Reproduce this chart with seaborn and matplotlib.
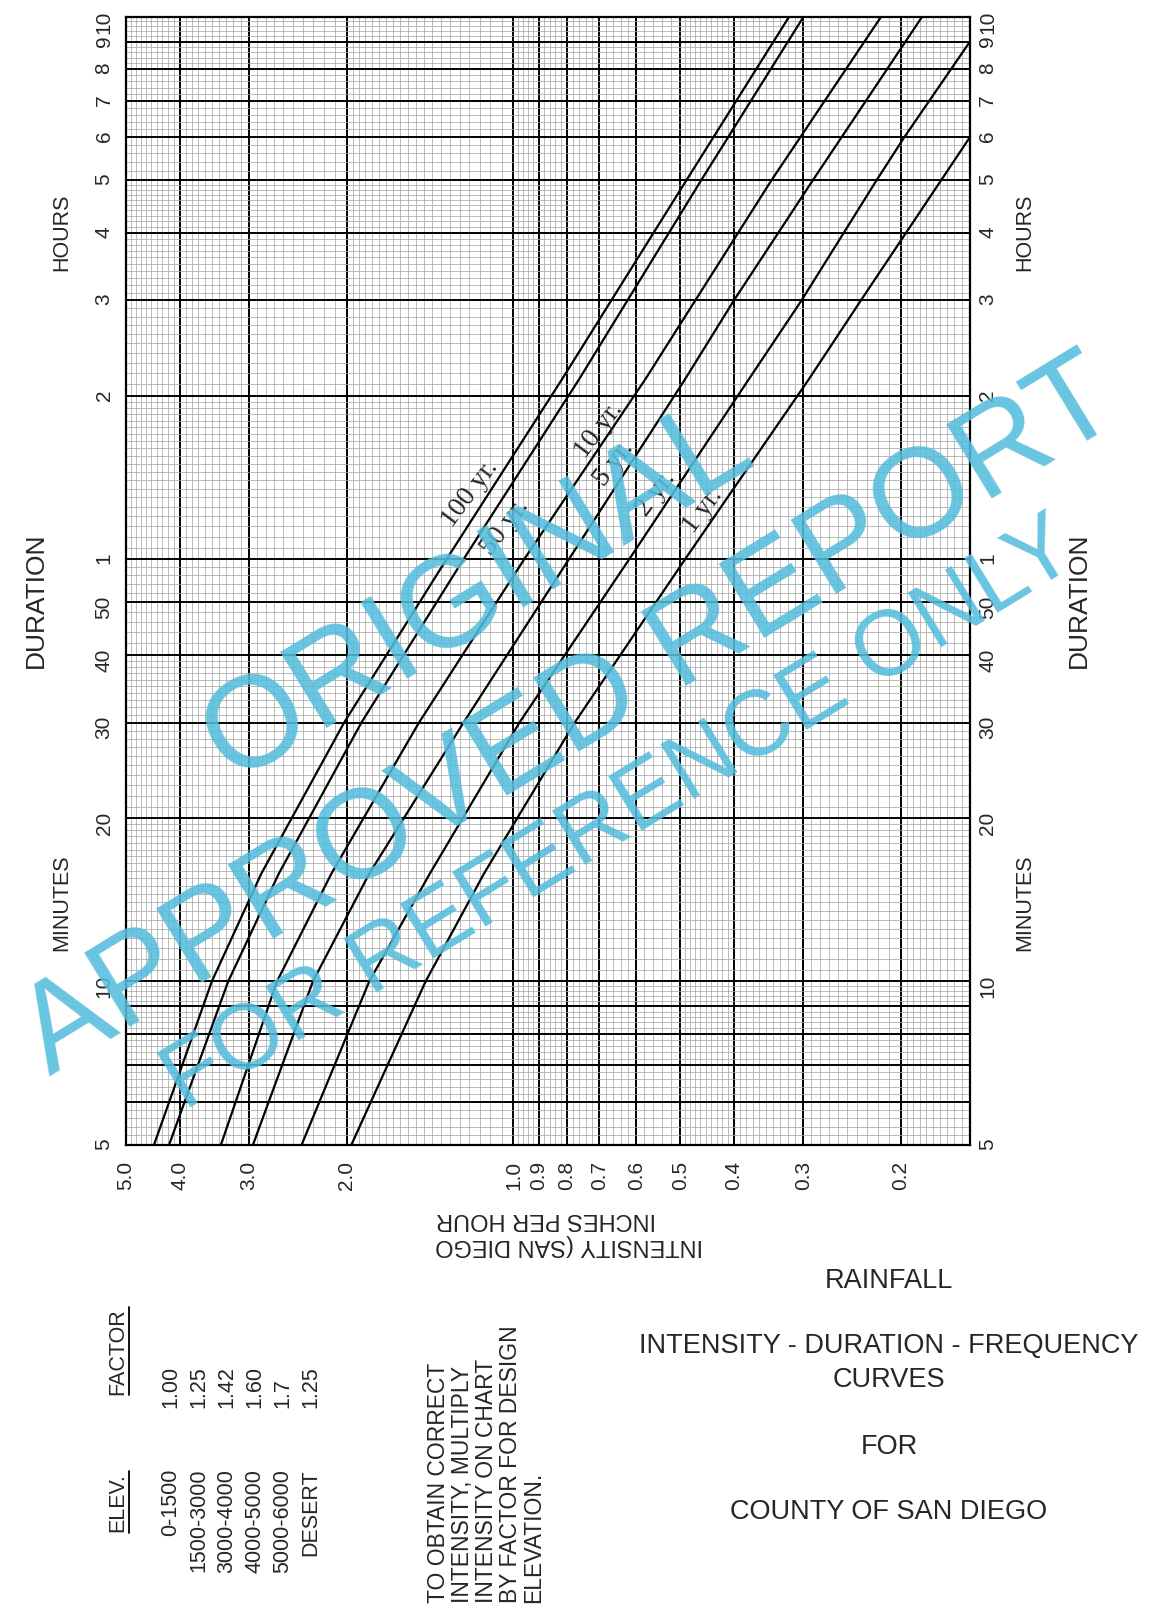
import numpy as np
import pandas as pd
import matplotlib
matplotlib.use("Agg")
import matplotlib.pyplot as plt
from matplotlib.ticker import FixedLocator, FixedFormatter, NullFormatter, NullLocator
from matplotlib.lines import Line2D
import seaborn as sns

nan = np.nan

DURATION_MIN = [5, 10, 15.8, 30, 60, 128.8, 180, 300, 360, 540, 600]

# Intensity (inches per hour) for each return period
YR100 = [4.45, 3.50, 2.85, 2.02, 1.32, 0.817, nan, 0.487, nan, nan, 0.318]
YR50 = [4.18, 3.27, 2.65, 1.88, 1.23, 0.761, nan, 0.458, nan, nan, 0.2995]
YR10 = [3.37, 2.67, 2.13, 1.48, 0.956, 0.578, nan, 0.342, nan, nan, 0.217]
YR5 = [2.95, 2.30, 1.82, 1.23, 0.794, 0.49, 0.40, 0.288, nan, nan, 0.183]
YR2 = [2.41, 1.82, 1.415, 0.975, 0.618, 0.376, 0.302, 0.221, 0.197, 0.15, nan]
YR1 = [1.96, 1.44, 1.13, 0.775, 0.49, 0.293, 0.236, 0.169, 0.150, nan, nan]

FREQ_LABELS = ["100 yr.", "50 yr.", "10 yr.", "5 yr.", "2 yr.", "1 yr."]
# where each curve label sits (intensity, duration in minutes)
LABEL_I = [1.198, 1.036, 0.70, 0.659, 0.552, 0.455]
LABEL_D = [79.6, 69.0, 104.1, 90.4, 79.6, 74.1]

X_TICKS = [5.0, 4.0, 3.0, 2.0, 1.0, 0.9, 0.8, 0.7, 0.6, 0.5, 0.4, 0.3, 0.2]
X_TICK_LABELS = ["5.0", "4.0", "3.0", "2.0", "1.0", "0.9", "0.8", "0.7",
                 "0.6", "0.5", "0.4", "0.3", "0.2"]
Y_TICKS = [5, 6, 7, 8, 9, 10, 20, 30, 40, 50, 60, 120, 180, 240, 300, 360,
           420, 480, 540, 600]
Y_TICK_LABELS = ["5", "", "", "", "", "10", "20", "30", "40", "50", "1", "2",
                 "3", "4", "5", "6", "7", "8", "9", "10"]

ELEV = ["0-1500", "1500-3000", "3000-4000", "4000-5000", "5000-6000", "DESERT"]
FACTOR = ["1.00", "1.25", "1.42", "1.60", "1.7", "1.25"]

# long-form table for seaborn
rows = []
for name, vals in zip(FREQ_LABELS, [YR100, YR50, YR10, YR5, YR2, YR1]):
    for d, i in zip(DURATION_MIN, vals):
        if not np.isnan(i):
            rows.append({"freq": name, "duration": d, "intensity": i})
df = pd.DataFrame(rows)

sns.set_style("white")
plt.rcParams["font.family"] = ["Liberation Sans", "DejaVu Sans"]

W, H = 1149, 1608
fig = plt.figure(figsize=(W / 100, H / 100), dpi=100)


def fx(px):
    return px / W


def fy(py):
    return 1 - py / H


ax = fig.add_axes([fx(126), fy(1145.7), fx(970) - fx(126), fy(17.7) - fy(1145.7)])

sns.lineplot(data=df, x="intensity", y="duration", hue="freq",
             hue_order=FREQ_LABELS, palette=["black"] * 6, sort=False,
             estimator=None, legend=False, linewidth=1.6, ax=ax)

ax.set_xscale("log")
ax.set_yscale("log")
ax.set_xlim(5.0, 0.15)
ax.set_ylim(5, 600)
ax.set_xlabel("")
ax.set_ylabel("")

# graph-paper rulings
x_minor = np.concatenate([np.arange(2.0, 5.0, 0.1), np.arange(1.0, 2.0, 0.05),
                          np.arange(0.5, 1.0, 0.02), np.arange(0.2, 0.5, 0.01),
                          np.arange(0.15, 0.2, 0.005)])
y_minor = np.concatenate([np.arange(5, 10, 0.2), np.arange(10, 20, 0.5),
                          np.arange(20, 40, 1.0), np.arange(40, 60, 2.0),
                          np.arange(60, 120, 3.0), np.arange(120, 300, 6.0),
                          np.arange(300, 600, 12.0)])

ax.xaxis.set_major_locator(FixedLocator(X_TICKS))
ax.xaxis.set_major_formatter(FixedFormatter(X_TICK_LABELS))
ax.xaxis.set_minor_locator(FixedLocator(x_minor))
ax.xaxis.set_minor_formatter(NullFormatter())
ax.yaxis.set_major_locator(FixedLocator(Y_TICKS))
ax.yaxis.set_major_formatter(FixedFormatter(Y_TICK_LABELS))
ax.yaxis.set_minor_locator(FixedLocator(y_minor))
ax.yaxis.set_minor_formatter(NullFormatter())

ax.set_axisbelow(True)
ax.grid(which="minor", color="#a8a8a8", linewidth=0.55)
ax.grid(which="major", color="black", linewidth=1.4)
ax.tick_params(which="both", length=0)
ax.tick_params(axis="x", labelsize=15, pad=11, labelrotation=90)
ax.tick_params(axis="y", labelsize=15, pad=9, labelrotation=90)
for s in ax.spines.values():
    s.set_color("black")
    s.set_linewidth(1.6)

# same duration scale on the right
ax2 = ax.twinx()
ax2.set_yscale("log")
ax2.set_ylim(5, 600)
ax2.yaxis.set_major_locator(FixedLocator(Y_TICKS))
ax2.yaxis.set_major_formatter(FixedFormatter(Y_TICK_LABELS))
ax2.yaxis.set_minor_locator(NullLocator())
ax2.grid(False)
ax2.tick_params(which="both", length=0, labelsize=15, pad=6, labelrotation=90)
for s in ax2.spines.values():
    s.set_visible(False)

# curve labels
for lab, xi, yd in zip(FREQ_LABELS, LABEL_I, LABEL_D):
    ax.text(xi, yd, lab, rotation=53, rotation_mode="anchor", ha="center",
            va="center", fontsize=20, family=["Liberation Serif", "DejaVu Serif"])

# axis titles
for xx in (62, 1025):
    fig.text(fx(xx), fy(232), "HOURS", rotation=90, ha="center", va="center", fontsize=15.5)
    fig.text(fx(xx), fy(903), "MINUTES", rotation=90, ha="center", va="center", fontsize=15.5)
fig.text(fx(36), fy(600), "DURATION", rotation=90, ha="center", va="center", fontsize=19)
fig.text(fx(1079), fy(600), "DURATION", rotation=90, ha="center", va="center", fontsize=19)
fig.text(fx(569.5), fy(1232), "INTENSITY (SAN DIEGO\nINCHES PER HOUR", rotation=180,
         ha="center", va="center", multialignment="right", fontsize=17, linespacing=1.25)

# title block
fig.text(fx(889), fy(1281), "RAINFALL", ha="center", va="center", fontsize=19.5)
fig.text(fx(889), fy(1346), "INTENSITY - DURATION - FREQUENCY", ha="center", va="center", fontsize=19.5)
fig.text(fx(889), fy(1380), "CURVES", ha="center", va="center", fontsize=19.5)
fig.text(fx(889), fy(1447), "FOR", ha="center", va="center", fontsize=19.5)
fig.text(fx(889), fy(1512), "COUNTY OF SAN DIEGO", ha="center", va="center", fontsize=19.5)

# elevation factor table
fig.text(fx(118), fy(1352), "FACTOR", rotation=90, ha="center", va="center", fontsize=15.5)
fig.text(fx(118), fy(1503), "ELEV.", rotation=90, ha="center", va="center", fontsize=15.5)
fig.add_artist(Line2D([fx(129), fx(129)], [fy(1308), fy(1396)], color="black", lw=1.3))
fig.add_artist(Line2D([fx(129), fx(129)], [fy(1472), fy(1534)], color="black", lw=1.3))
for k, (e, f) in enumerate(zip(ELEV, FACTOR)):
    xx = 171 + 28 * k
    fig.text(fx(xx), fy(1469), e, rotation=90, rotation_mode="anchor", ha="right",
             va="center", fontsize=15.5)
    fig.text(fx(xx), fy(1408), f, rotation=90, rotation_mode="anchor", ha="left",
             va="center", fontsize=15.5)

fig.text(fx(427), fy(1603),
         "TO OBTAIN CORRECT\nINTENSITY, MULTIPLY\nINTENSITY ON CHART\nBY FACTOR FOR DESIGN\nELEVATION.",
         rotation=90, rotation_mode="anchor", ha="left", va="top", fontsize=16.5,
         linespacing=1.05)

# watermark
wm = dict(rotation=31.5, rotation_mode="anchor", ha="center", va="center",
          color="#55bddc", alpha=0.88, zorder=10)
fig.text(fx(478), fy(592), "ORIGINAL", fontsize=93, **wm)
fig.text(fx(570), fy(718), "APPROVED REPORT", fontsize=91, **wm)
fig.text(fx(620), fy(816), "FOR REFERENCE ONLY", fontsize=66, **wm)

fig.savefig("out.png", dpi=100, facecolor="white")
